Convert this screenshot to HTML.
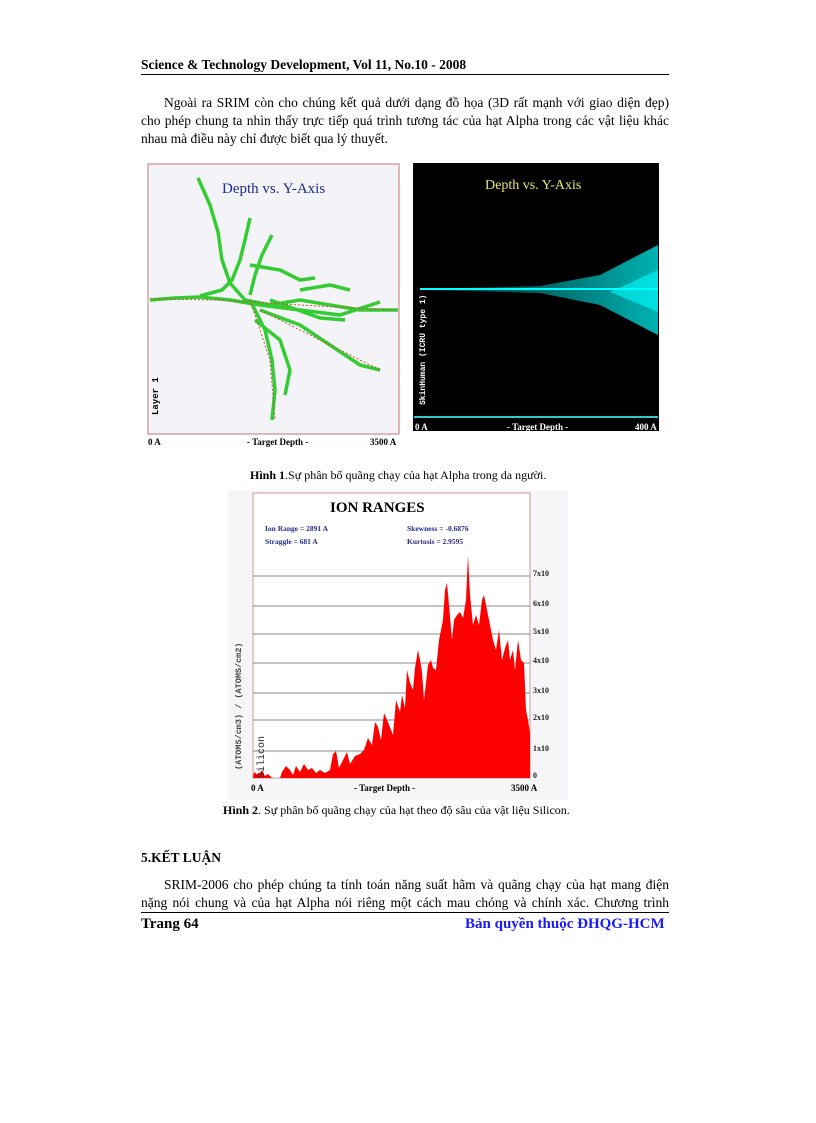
<!DOCTYPE html>
<html><head><meta charset="utf-8"><style>
body{margin:0;background:#fff;}
.pg{position:relative;width:816px;height:1123px;font-family:"Liberation Serif",serif;color:#000;}
.t{position:absolute;white-space:nowrap;font-size:13.5px;}
.j{position:absolute;left:141px;width:528px;font-size:13.5px;text-align:justify;text-align-last:justify;white-space:nowrap;}
.b{font-weight:bold;}
</style></head><body><div class="pg">
<div class="t b" style="left:141px;top:57px;font-size:13.5px;">Science &amp; Technology Development, Vol 11, No.10 - 2008</div>
<div style="position:absolute;left:141px;top:74px;width:528px;height:1px;background:#000"></div>
<div class="j" style="top:95px;left:164px;width:505px;">Ngoài ra SRIM còn cho chúng kết quả dưới dạng đồ họa (3D rất mạnh với giao diện đẹp)</div>
<div class="j" style="top:113px;">cho phép chung ta nhìn thấy trực tiếp quá trình tương tác của hạt Alpha trong các vật liệu khác</div>
<div class="t" style="top:131px;left:141px;">nhau mà điều này chỉ được biết qua lý thuyết.</div>

<svg style="position:absolute;left:0;top:0" width="816" height="1123">
<rect x="148" y="164" width="251" height="270" fill="#f4f4f8" stroke="#d9a0a0" stroke-width="1.5"/>
<text x="222" y="193" font-family="Liberation Serif" font-size="15" fill="#1a2a8a">Depth vs. Y-Axis</text>
<g fill="none" stroke="#33cc33" stroke-width="3.5" stroke-linejoin="round">
<polyline points="198,178 210,205 218,232 222,260 230,283 245,300 270,305 300,300 330,305 360,310 398,310"/>
<polyline points="150,300 175,298 200,297 230,300 260,305 300,310 340,315 380,302"/>
<polyline points="250,218 245,240 240,260 232,280 222,290 200,296"/>
<polyline points="272,235 262,255 255,275 250,295"/>
<polyline points="250,265 280,270 300,280 315,278"/>
<polyline points="250,300 265,330 272,360 275,390 272,420"/>
<polyline points="255,320 280,340 290,370 285,395"/>
<polyline points="260,310 300,325 330,345 360,365 380,370"/>
<polyline points="270,300 320,318 345,320"/>
<polyline points="300,290 330,285 350,290"/>
</g>
<g fill="none" stroke="#c05030" stroke-width="1" stroke-dasharray="2,2">
<polyline points="150,299 220,300 300,305 395,310"/>
<polyline points="250,300 270,360 275,420"/>
<polyline points="260,310 330,345 380,370"/>
</g>
<text x="148" y="445" font-family="Liberation Serif" font-size="9" font-weight="bold">0 A</text>
<text x="247" y="445" font-family="Liberation Serif" font-size="9" font-weight="bold">- Target Depth -</text>
<text x="370" y="445" font-family="Liberation Serif" font-size="9" font-weight="bold">3500 A</text>
<text transform="translate(158,415) rotate(-90)" font-family="Liberation Mono" font-size="9" font-weight="bold">Layer 1</text>
<rect x="413" y="163" width="246" height="268" fill="#000"/>
<text x="485" y="189" font-family="Liberation Serif" font-size="14" fill="#e8e870">Depth vs. Y-Axis</text>
<defs><linearGradient id="cg" x1="0" x2="1"><stop offset="0" stop-color="#00ffff" stop-opacity="0.1"/><stop offset="1" stop-color="#00ffff" stop-opacity="0.7"/></linearGradient></defs>
<polygon points="420,289 540,286 600,275 658,245 658,335 600,305 540,293 420,290" fill="url(#cg)"/>
<line x1="420" y1="289" x2="658" y2="289" stroke="#00ffff" stroke-width="2"/>
<polygon points="610,292 658,270 658,312" fill="#00ffff" opacity="0.6"/>
<line x1="414" y1="417" x2="658" y2="417" stroke="#30c8c8" stroke-width="2"/>
<text x="415" y="430" font-family="Liberation Serif" font-size="9" font-weight="bold" fill="#fff">0 A</text>
<text x="507" y="430" font-family="Liberation Serif" font-size="9" font-weight="bold" fill="#fff">- Target Depth -</text>
<text x="635" y="430" font-family="Liberation Serif" font-size="9" font-weight="bold" fill="#fff">400 A</text>
<text transform="translate(425,405) rotate(-90)" font-family="Liberation Mono" font-size="8" font-weight="bold" fill="#fff">SkinHuman (ICRU type 1)</text>

<rect x="228" y="490" width="340" height="310" fill="#f6f6f8"/>
<rect x="253" y="493" width="277" height="285" fill="#fff" stroke="#c99" stroke-width="1"/>
<text x="330" y="512" font-family="Liberation Serif" font-size="15" font-weight="bold">ION RANGES</text>
<g font-family="Liberation Serif" font-size="7.5" font-weight="bold" fill="#2a2a8a">
<text x="265" y="531">Ion Range   =  2891 A</text><text x="407" y="531">Skewness     = -0.6876</text>
<text x="265" y="544">Straggle     =  681 A</text><text x="407" y="544">Kurtosis      = 2.9595</text></g>
<g stroke="#888" stroke-width="1">
<line x1="253" y1="576" x2="530" y2="576"/><line x1="253" y1="606" x2="530" y2="606"/><line x1="253" y1="634" x2="530" y2="634"/><line x1="253" y1="663" x2="530" y2="663"/><line x1="253" y1="693" x2="530" y2="693"/><line x1="253" y1="720" x2="530" y2="720"/><line x1="253" y1="751" x2="530" y2="751"/></g>
<polygon fill="#ff0000" points="253,778 254,772 258,775 262,770 265,776 268,774 272,778 280,778 282,772 286,766 290,770 293,775 296,766 300,772 304,764 308,770 312,768 316,773 320,770 325,773 330,770 333,754 336,751 339,768 343,760 347,752 350,764 355,756 360,754 364,750 368,738 372,745 375,722 378,727 381,740 384,713 388,722 391,730 393,735 396,700 400,712 402,695 405,708 407,670 410,683 413,690 415,668 418,650 420,660 422,672 424,700 426,683 428,665 431,660 433,668 436,670 439,640 443,620 445,590 447,583 449,605 452,640 454,620 457,615 460,612 463,618 466,600 468,555 470,595 473,625 476,615 479,625 482,600 484,595 487,610 490,625 493,640 496,650 499,630 502,660 505,648 508,640 510,660 513,650 515,670 518,640 521,660 524,663 526,710 528,720 530,733 530,778"/>
<g font-family="Liberation Serif" font-size="8" font-weight="bold" fill="#222">
<text x="533" y="576">7x10</text><text x="533" y="606">6x10</text><text x="533" y="634">5x10</text><text x="533" y="663">4x10</text><text x="533" y="693">3x10</text><text x="533" y="720">2x10</text><text x="533" y="751">1x10</text><text x="533" y="778">0</text></g>
<g font-family="Liberation Serif" font-size="9" font-weight="bold"><text x="251" y="791">0 A</text><text x="354" y="791">- Target Depth -</text><text x="511" y="791">3500 A</text></g>
<text transform="translate(241,770) rotate(-90)" font-family="Liberation Mono" font-size="8.5" font-weight="bold" fill="#444">(ATOMS/cm3) / (ATOMS/cm2)</text>
<text transform="translate(264,778) rotate(-90)" font-family="Liberation Mono" font-size="10" fill="#222">Silicon</text>
</svg>

<div class="t" style="left:250px;top:468px;font-size:12px;"><b>Hình 1</b>.Sự phân bố quãng chạy của hạt Alpha trong da người.</div>
<div class="t" style="left:223px;top:803px;font-size:12px;"><b>Hình 2</b>. Sự phân bố quãng chạy của hạt theo độ sâu của vật liệu Silicon.</div>
<div class="t b" style="left:141px;top:850px;">5.KẾT LUẬN</div>
<div class="j" style="top:877px;left:164px;width:505px;">SRIM-2006 cho phép chúng ta tính toán năng suất hãm và quãng chạy của hạt mang điện</div>
<div class="j" style="top:895px;">nặng nói chung và của hạt Alpha nói riêng một cách mau chóng và chính xác.  Chương trình</div>
<div style="position:absolute;left:141px;top:912px;width:528px;height:1px;background:#000"></div>
<div class="t b" style="left:141px;top:916px;font-size:15px;">Trang 64</div>
<div class="t b" style="left:465px;top:916px;font-size:15px;color:#1a1aff;">Bản quyền thuộc ĐHQG-HCM</div>
</div></body></html>
